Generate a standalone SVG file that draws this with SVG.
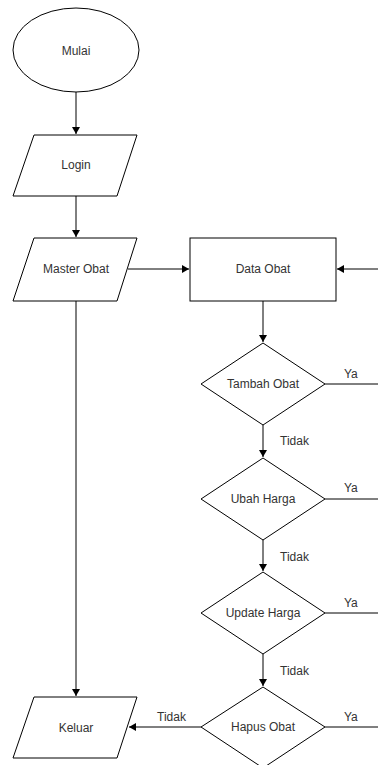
<svg xmlns="http://www.w3.org/2000/svg" width="378" height="765" viewBox="0 0 378 765">
<defs>
<marker id="arr" markerWidth="8" markerHeight="8" refX="7" refY="4" orient="auto" markerUnits="userSpaceOnUse">
<path d="M0,0 L7,4 L0,8 Z" fill="#000"/>
</marker>
<style>
.s{fill:#fff;stroke:#000;stroke-width:1}
.t{font-family:"Liberation Sans",Arial,sans-serif;font-size:12px;fill:#333;text-anchor:middle;dominant-baseline:central}
.l{font-family:"Liberation Sans",Arial,sans-serif;font-size:12px;fill:#333}
.c{fill:none;stroke:#000;stroke-width:1}
</style>
</defs>
<rect width="378" height="765" fill="#fff"/>
<g id="connectors">
<path class="c" d="M76,92 V134" marker-end="url(#arr)"/>
<path class="c" d="M76,196 V237" marker-end="url(#arr)"/>
<path class="c" d="M128,269 H189" marker-end="url(#arr)"/>
<path class="c" d="M378,269 H337" marker-end="url(#arr)"/>
<path class="c" d="M263,301 V342" marker-end="url(#arr)"/>
<path class="c" d="M325,384 H378"/>
<text class="l" x="344" y="378">Ya</text>
<path class="c" d="M263,425 V457" marker-end="url(#arr)"/>
<text class="l" x="280" y="445">Tidak</text>
<path class="c" d="M325,499 H378"/>
<text class="l" x="344" y="492">Ya</text>
<path class="c" d="M263,540 V571" marker-end="url(#arr)"/>
<text class="l" x="280" y="561">Tidak</text>
<path class="c" d="M325,613 H378"/>
<text class="l" x="344" y="607">Ya</text>
<path class="c" d="M263,654 V686" marker-end="url(#arr)"/>
<text class="l" x="280" y="675">Tidak</text>
<path class="c" d="M325,727 H378"/>
<text class="l" x="344" y="721">Ya</text>
<path class="c" d="M201,727 H129" marker-end="url(#arr)"/>
<text class="l" x="157" y="721">Tidak</text>
<path class="c" d="M76,301 V696" marker-end="url(#arr)"/>
</g>
<g id="mulai">
<ellipse class="s" cx="76" cy="50" rx="63" ry="42"/>
<text class="t" x="76" y="51">Mulai</text>
</g>
<g id="login">
<polygon class="s" points="34,135 137,135 117,196 13,196"/>
<text class="t" x="76" y="165">Login</text>
</g>
<g id="master-obat">
<polygon class="s" points="34,238 137,238 117,301 13,301"/>
<text class="t" x="76" y="269">Master Obat</text>
</g>
<g id="data-obat">
<rect class="s" x="190" y="238" width="146" height="63"/>
<text class="t" x="263" y="269">Data Obat</text>
</g>
<g id="tambah-obat">
<polygon class="s" points="263,343 325,384 263,425 201,384"/>
<text class="t" x="263" y="384">Tambah Obat</text>
</g>
<g id="ubah-harga">
<polygon class="s" points="263,458 325,499 263,540 201,499"/>
<text class="t" x="263" y="499">Ubah Harga</text>
</g>
<g id="update-harga">
<polygon class="s" points="263,572 325,613 263,654 201,613"/>
<text class="t" x="263" y="613">Update Harga</text>
</g>
<g id="hapus-obat">
<polygon class="s" points="263,687 325,727 263,768 201,727"/>
<text class="t" x="263" y="727">Hapus Obat</text>
</g>
<g id="keluar">
<polygon class="s" points="34,697 137,697 117,758 13,758"/>
<text class="t" x="76" y="728">Keluar</text>
</g>
</svg>
